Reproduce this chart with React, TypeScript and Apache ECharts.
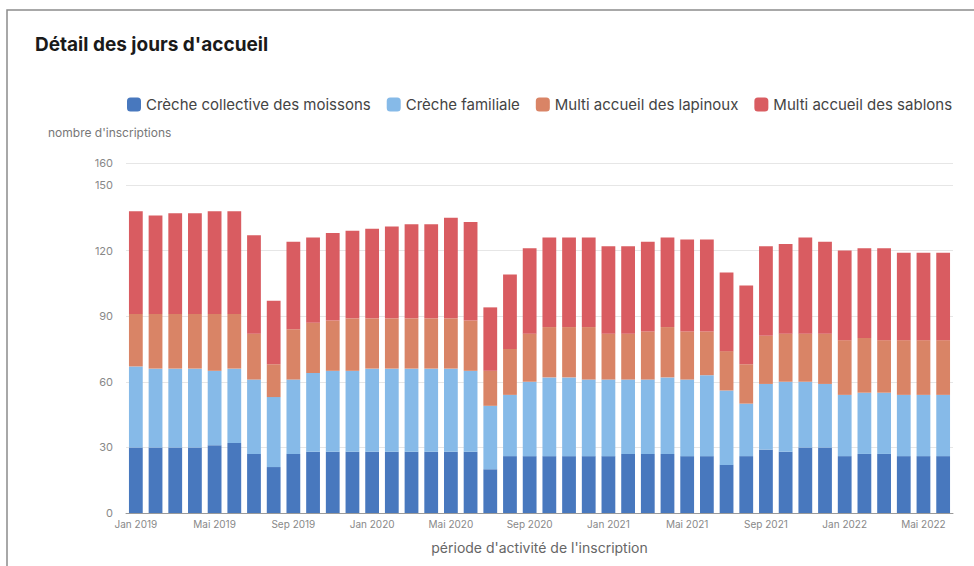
import React, { useEffect, useRef } from "react";
import * as echarts from "echarts";

// Month labels (French abbreviations), Jan 2019 → Jun 2022
const monthNames = ["Jan", "Fév", "Mar", "Avr", "Mai", "Jun", "Jul", "Aoû", "Sep", "Oct", "Nov", "Déc"];
const years = [2019, 2020, 2021, 2022];
const months: string[] = [];
years.forEach((y) => monthNames.forEach((m, i) => {
  if (y < 2022 || i < 6) months.push(`${m} ${y}`);
}));

const seriesNames = [
  "Crèche collective des moissons",
  "Crèche familiale",
  "Multi accueil des lapinoux",
  "Multi accueil des sablons",
];

const collectiveMoissons = [
  30, 30, 30, 30, 31, 32, 27, 21, 27, 28, 28, 28, 28, 28, 28, 28, 28, 28, 20, 26, 26,
  26, 26, 26, 26, 27, 27, 27, 26, 26, 22, 26, 29, 28, 30, 30, 26, 27, 27, 26, 26, 26,
];
const familiale = [
  37, 36, 36, 36, 34, 34, 34, 32, 34, 36, 37, 37, 38, 38, 38, 38, 38, 37, 29, 28, 34,
  36, 36, 35, 35, 34, 34, 35, 35, 37, 34, 24, 30, 32, 30, 29, 28, 28, 28, 28, 28, 28,
];
const lapinoux = [
  24, 25, 25, 25, 26, 25, 21, 15, 23, 23, 23, 24, 23, 23, 23, 23, 23, 23, 16, 21, 22,
  23, 23, 24, 21, 21, 22, 23, 22, 20, 18, 18, 22, 22, 22, 23, 25, 25, 24, 25, 25, 25,
];
const sablons = [
  47, 45, 46, 46, 47, 47, 45, 29, 40, 39, 40, 40, 41, 42, 43, 43, 46, 45, 29, 34, 39,
  41, 41, 41, 40, 40, 41, 41, 42, 42, 36, 36, 41, 41, 44, 42, 41, 41, 42, 40, 40, 40,
];

const colors = ["#4878be", "#86bae8", "#d98466", "#d95c61"];
const values = [collectiveMoissons, familiale, lapinoux, sablons];

const FONT = "Inter, 'Noto Sans', sans-serif";

export default function App() {
  const ref = useRef<HTMLDivElement>(null);

  useEffect(() => {
    if (!ref.current) return;
    const chart = echarts.init(ref.current, undefined, { renderer: "svg" });
    chart.setOption({
      animation: false,
      backgroundColor: "#ffffff",
      textStyle: { fontFamily: FONT },
      graphic: [
        {
          type: "rect",
          shape: { x: 7, y: 10, width: 1000, height: 600 },
          style: { fill: "none", stroke: "#8c8c8c", lineWidth: 1.5 },
          silent: true,
        },
        {
          type: "text",
          left: 35,
          top: 35,
          style: {
            text: "Détail des jours d'accueil",
            font: `700 19px ${FONT}`,
            fill: "#1a1a1a",
          },
        },
        {
          type: "text",
          left: 48,
          top: 126,
          style: {
            text: "nombre d'inscriptions",
            font: `12px ${FONT}`,
            fill: "#777777",
          },
        },
      ],
      legend: {
        left: 122,
        top: 92,
        itemWidth: 14,
        itemHeight: 14,
        itemGap: 16,
        icon: "roundRect",
        textStyle: { fontSize: 15, color: "#444444", fontFamily: FONT },
        data: seriesNames,
      },
      grid: { left: 126, right: 21, top: 163, bottom: 53 },
      xAxis: {
        type: "category",
        data: months,
        boundaryGap: true,
        name: "période d'activité de l'inscription",
        nameLocation: "middle",
        nameGap: 27,
        nameTextStyle: { fontSize: 14, color: "#666666" },
        axisLine: { lineStyle: { color: "#9a9a9a" } },
        axisTick: { interval: 3, length: 4, lineStyle: { color: "#9a9a9a" } },
        axisLabel: { interval: 3, fontSize: 10, color: "#888888", margin: 6 },
      },
      yAxis: {
        type: "value",
        min: 0,
        max: 160,
        interval: 30,
        axisLine: { show: false },
        axisTick: { show: false },
        axisLabel: { fontSize: 11, color: "#888888", margin: 13 },
        splitLine: { lineStyle: { color: "#e6e6e6" } },
      },
      series: seriesNames.map((name, i) => ({
        name,
        type: "bar",
        stack: "total",
        data: values[i],
        barCategoryGap: "30%",
        itemStyle: { color: colors[i] },
      })),
    });
    return () => chart.dispose();
  }, []);

  return (
    <div
      ref={ref}
      style={{ position: "absolute", left: 0, top: 0, width: 974, height: 566 }}
    />
  );
}
